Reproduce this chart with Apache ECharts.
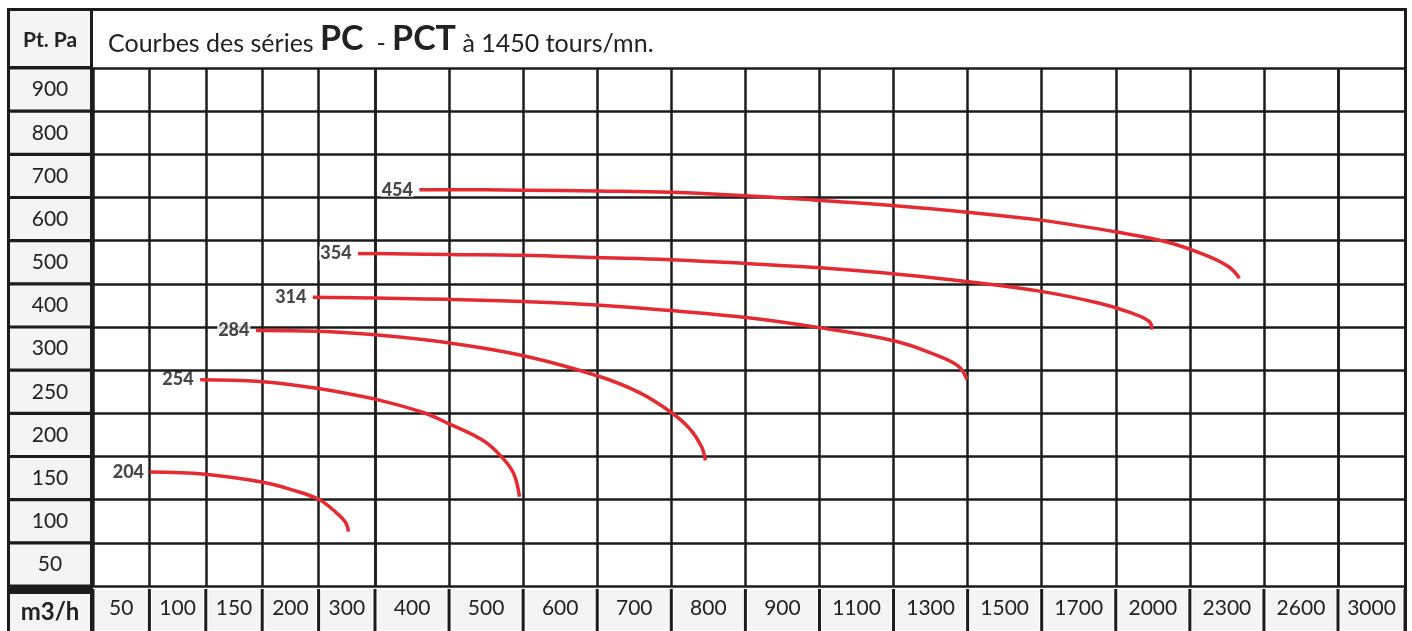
<!DOCTYPE html>
<html><head><meta charset="utf-8">
<script src="https://cdn.jsdelivr.net/npm/echarts@6/dist/echarts.min.js"></script>
<style>html,body{margin:0;padding:0;background:#fff}#c{width:1412px;height:631px}</style>
</head><body><div id="c"></div>
<script>
// ---- data (x = column index, 0 = centre of the '50' column; y = row index, 0 = centre of the '50' row)
const flowLabels = ['50','100','150','200','300','400','500','600','700','800','900','1100','1300','1500','1700','2000','2300','2600','3000'];
const pressureLabels = ['50','100','150','200','250','300','400','500','600','700','800','900'];
const curveNames = ['204','254','284','314','354','454'];
const curve204 = [[0.52,2.14],[1.49,2.09],[2.49,1.91],[3.05,1.72],[3.50,1.51],[3.76,1.26],[3.97,0.99],[4.03,0.76]];
const curve254 = [[1.40,4.28],[2.46,4.24],[3.47,4.08],[4.50,3.83],[5.15,3.52],[5.51,3.25],[5.96,2.87],[6.21,2.49],[6.37,2.11],[6.45,1.57]];
const curve284 = [[2.39,5.42],[3.49,5.40],[4.50,5.32],[5.51,5.13],[6.49,4.84],[7.50,4.37],[8.07,3.98],[8.50,3.52],[8.75,3.14],[8.91,2.72],[8.96,2.41]];
const curve314 = [[3.40,6.19],[4.50,6.17],[5.49,6.14],[6.50,6.09],[7.50,6.01],[8.49,5.88],[9.51,5.72],[10.52,5.48],[11.53,5.17],[12.06,4.86],[12.37,4.60],[12.49,4.29]];
const curve354 = [[4.20,7.20],[4.50,7.20],[5.49,7.18],[6.48,7.16],[7.50,7.11],[8.49,7.06],[9.52,6.97],[10.51,6.87],[11.52,6.73],[12.51,6.55],[13.51,6.32],[14.28,6.05],[14.72,5.82],[14.95,5.63],[14.99,5.44]];
const curve454 = [[5.10,8.68],[5.50,8.68],[6.49,8.67],[7.50,8.65],[8.50,8.62],[9.51,8.54],[10.52,8.43],[11.52,8.31],[12.50,8.16],[13.51,7.97],[14.51,7.70],[15.19,7.47],[15.72,7.16],[16.02,6.90],[16.17,6.63]];
const curves = [curve204, curve254, curve284, curve314, curve354, curve454];

// ---- layout / style
const RED = '#e52b31', INK = '#1c1c1c', CELL = '#f4f4f4', FONT = 'Lato', TXT = '#222';
const gridTop = 68, gridBottom = 590;
const groups = [
  {start:0, end:5, left:93, right:375},
  {start:5, end:18, left:375, right:1338},
  {start:18, end:19, left:1338, right:1405}
];

const chart = echarts.init(document.getElementById('c'), null, {renderer:'canvas', width:1412, height:631});
const grid = [], xAxis = [], yAxis = [], series = [];
const splitStyle = {show:true, interval:0, lineStyle:{color:INK, width:2.5}};

groups.forEach((g, k) => {
  const n = g.end - g.start, colW = (g.right - g.left) / n;
  grid.push({left:g.left, top:gridTop, width:g.right - g.left, height:gridBottom - gridTop});
  xAxis.push({type:'category', gridIndex:k, data:flowLabels.slice(g.start, g.end), boundaryGap:true, position:'bottom',
    axisLine:{show:false}, axisTick:{show:false}, splitLine:splitStyle,
    axisLabel:{interval:0, margin:4, fontFamily:FONT, fontSize:21, color:TXT, backgroundColor:CELL,
      borderColor:'#fff', borderWidth:1, width:colW - 5, height:32, lineHeight:32, padding:[2,0,6,0],
      align:'center', verticalAlign:'top', overflow:'none'}});
  xAxis.push({type:'value', gridIndex:k, min:-0.5, max:n - 0.5, show:false});
  yAxis.push({type:'category', gridIndex:k, data:pressureLabels, boundaryGap:true,
    axisLine:{show:false}, axisTick:{show:false}, splitLine:splitStyle,
    axisLabel: k === 0 ? {interval:0, margin:43, fontFamily:FONT, fontSize:21, color:TXT, backgroundColor:CELL,
      width:80, height:40, lineHeight:40, align:'center', verticalAlign:'middle', overflow:'none'} : {show:false}});
  yAxis.push({type:'value', gridIndex:k, min:-0.5, max:11.5, show:false});
});

curves.forEach((pts, ci) => {
  groups.forEach((g, k) => {
    const lo = g.start - 0.5, hi = g.end - 0.5;
    const seg = pts.filter(p => p[0] >= lo && p[0] <= hi).map(p => [p[0] - g.start, p[1]]);
    if (seg.length >= 2) {
      series.push({type:'line', xAxisIndex:2*k+1, yAxisIndex:2*k+1, data:seg, smooth:0.4, symbol:'none',
        lineStyle:{color:RED, width:3.5}, silent:true, clip:false, z:5});
    }
  });
  const first = pts[0];
  const k = groups.findIndex(g => first[0] >= g.start - 0.5 && first[0] <= g.end - 0.5);
  series.push({type:'scatter', xAxisIndex:2*k+1, yAxisIndex:2*k+1, symbolSize:1, itemStyle:{color:RED}, silent:true, z:6,
    data:[{name:curveNames[ci], value:[first[0] - groups[k].start, first[1]]}],
    label:{show:true, position:'left', distance:5, formatter:'{b}', fontFamily:FONT, fontWeight:900, fontSize:18,
      color:'#1a1a1a', backgroundColor:'#fff', padding:[0,1], lineHeight:14, textBorderWidth:0}});
});

chart.setOption({
  animation:false,
  backgroundColor:'#fff',
  title:{left:103, top:17,
    text:'{a|Courbes des séries }{b|PC}{a|  - }{b|PCT}{a| à 1450 tours/mn.}',
    textStyle:{rich:{
      a:{fontFamily:FONT, fontSize:25, fontWeight:'normal', color:TXT, verticalAlign:'bottom'},
      b:{fontFamily:FONT, fontSize:34, fontWeight:'bold', color:TXT, verticalAlign:'bottom'}
    }}},
  grid, xAxis, yAxis, series,
  graphic:{elements:[
    {type:'rect', z:-1, shape:{x:7, y:68, width:86, height:522}, style:{fill:INK}},
    {type:'rect', z:-1, shape:{x:7, y:589, width:1399, height:50}, style:{fill:INK}},
    {type:'rect', z:1, shape:{x:8.5, y:9.5, width:83, height:58}, style:{fill:CELL, stroke:INK, lineWidth:3}},
    {type:'text', z:2, x:50, y:40, style:{text:'Pt. Pa', fontFamily:FONT, fontWeight:'bold', fontSize:21, fill:TXT, align:'center', verticalAlign:'middle'}},
    {type:'rect', z:1, shape:{x:10, y:594, width:80, height:40}, style:{fill:CELL}},
    {type:'text', z:2, x:50, y:612, style:{text:'m3/h', fontFamily:FONT, fontWeight:'bold', fontSize:24, fill:TXT, align:'center', verticalAlign:'middle'}},
    {type:'rect', z:10, shape:{x:8.5, y:9.5, width:1397, height:640}, style:{fill:null, stroke:INK, lineWidth:3}}
  ]}
});
</script></body></html>
